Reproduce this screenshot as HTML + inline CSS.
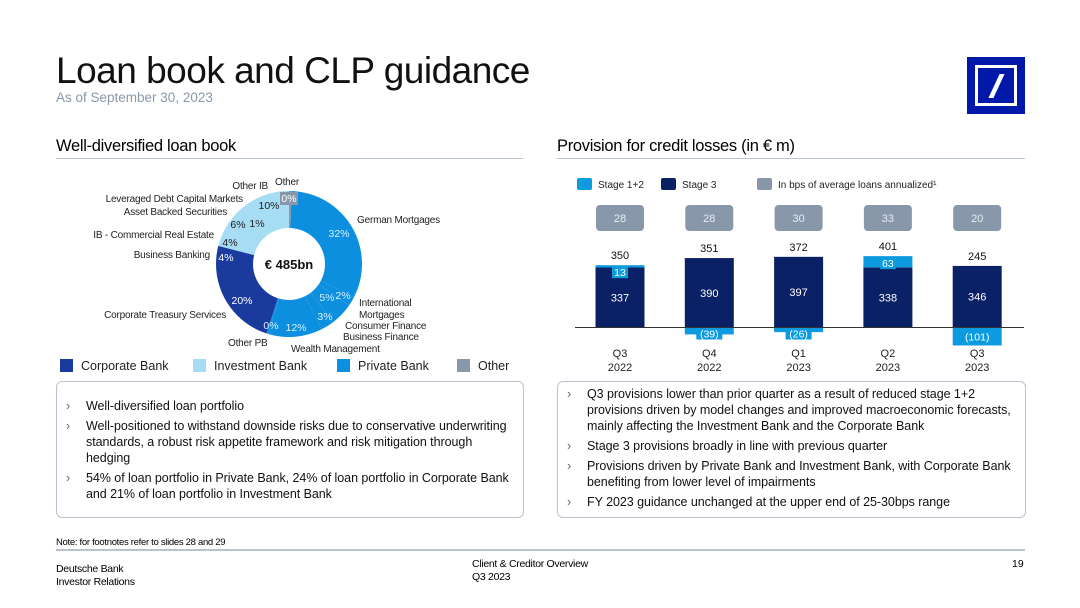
<!DOCTYPE html>
<html><head><meta charset="utf-8"><style>
body{margin:0;width:1080px;height:608px;background:#fff;font-family:"Liberation Sans",sans-serif;color:#000;position:relative;overflow:hidden}
.abs{position:absolute}
.box{position:absolute;border:1px solid #b9c3cd;border-radius:6px;font-size:12.5px;letter-spacing:-0.05px;line-height:16px;color:#111}
.box ul{list-style:none;margin:0;padding:0}
.box li{position:relative;padding-left:29px;margin-bottom:4px;white-space:nowrap}
.box li:before{content:"\203A";position:absolute;left:9px;color:#666}
</style></head><body>
<div class="abs" style="left:56px;top:50px;font-size:37px;letter-spacing:-0.5px;color:#111">Loan book and CLP guidance</div>
<div class="abs" style="left:56px;top:90px;font-size:13.5px;color:#8a98a8">As of September 30, 2023</div>
<div class="abs" style="left:967px;top:57px;width:58px;height:57px;background:#0018a8">
<div style="position:absolute;left:8px;top:8px;width:36px;height:35px;border:3px solid #fff;background:#0018a8"></div>
<div style="position:absolute;left:27px;top:17px;width:5px;height:24px;background:#fff;transform:skewX(-25deg)"></div></div>
<div class="abs" style="left:56px;top:137px;font-size:16.5px;letter-spacing:-0.3px">Well-diversified loan book</div>
<div class="abs" style="left:56px;top:158px;width:467px;height:1px;background:#b9c3cd"></div>
<div class="abs" style="left:557px;top:137px;font-size:16.5px;letter-spacing:-0.3px">Provision for credit losses (in € m)</div>
<div class="abs" style="left:557px;top:158px;width:468px;height:1px;background:#b9c3cd"></div>

<svg class="abs" style="left:0;top:0" width="1080" height="608" font-family="Liberation Sans, sans-serif">
<g id="donut"></g>
<g id="bars"></g>
</svg>

<div class="box" style="left:56px;top:381px;width:466px;height:135px">
<ul style="padding-top:16px">
<li>Well-diversified loan portfolio</li>
<li>Well-positioned to withstand downside risks due to conservative underwriting<br>standards, a robust risk appetite framework and risk mitigation through<br>hedging</li>
<li>54% of loan portfolio in Private Bank, 24% of loan portfolio in Corporate Bank<br>and 21% of loan portfolio in Investment Bank</li></ul></div>
<div class="box" style="left:557px;top:381px;width:467px;height:135px">
<ul style="padding-top:4px">
<li>Q3 provisions lower than prior quarter as a result of reduced stage 1+2<br>provisions driven by model changes and improved macroeconomic forecasts,<br>mainly affecting the Investment Bank and the Corporate Bank</li>
<li>Stage 3 provisions broadly in line with previous quarter</li>
<li>Provisions driven by Private Bank and Investment Bank, with Corporate Bank<br>benefiting from lower level of impairments</li>
<li style="margin-bottom:0">FY 2023 guidance unchanged at the upper end of 25-30bps range</li></ul></div>

<div class="abs" style="left:56px;top:537px;font-size:9.5px;letter-spacing:-0.3px">Note: for footnotes refer to slides 28 and 29</div>
<div class="abs" style="left:56px;top:549px;width:969px;height:2px;background:#b9c3cd"></div>
<div class="abs" style="left:56px;top:563px;font-size:10.5px;line-height:13px;letter-spacing:-0.3px">Deutsche Bank<br>Investor Relations</div>
<div class="abs" style="left:472px;top:558px;font-size:10.5px;line-height:13px;letter-spacing:-0.3px">Client &amp; Creditor Overview<br>Q3 2023</div>
<div class="abs" style="left:1012px;top:558px;font-size:10.5px">19</div>

<script>
const segNames=["Other","German Mortgages","International Mortgages","Consumer Finance","Business Finance","Wealth Management","Other PB","Corporate Treasury Services","Business Banking","IB - Commercial Real Estate","Asset Backed Securities","Leveraged Debt Capital Markets","Other IB"];
const segValues=[0.6,32,2,5,3,12,0.4,20,4,4,6,1,10];
const segLabels=["0%","32%","2%","5%","3%","12%","0%","20%","4%","4%","6%","1%","10%"];
const segDivision=["other","pb","pb","pb","pb","pb","pb","cb","cb","ib","ib","ib","ib"];
const stageNames=["Q3 2022","Q4 2022","Q1 2023","Q2 2023","Q3 2023"];
const stage3=[337,390,397,338,346];
const stage12=[13,-39,-26,63,-101];
const totals=[350,351,372,401,245];
const bps=[28,28,30,33,20];

const NS="http://www.w3.org/2000/svg";
function mk(p,t,a,txt){const e=document.createElementNS(NS,t);for(const k in a)e.setAttribute(k,a[k]);if(txt!==undefined)e.textContent=txt;p.appendChild(e);return e;}
const col={pb:"#0d8fdf",cb:"#1b3a9e",ib:"#a6dcf4",other:"#8897a9"};
const labelPos=[[289,202],[339,237],[343,299],[327,301],[325,320],[296,331],[271,329],[242,304],[226,261],[230,246],[238,228],[257,227],[269,209]];
const dg=document.getElementById('donut');
const cx=289,cy=264,R=73,r=36,sum=segValues.reduce((a,b)=>a+b,0);
function pt(a,rad){return [cx+rad*Math.sin(a),cy-rad*Math.cos(a)];}
let acc=0;
segValues.forEach((v,i)=>{
 const a0=acc/sum*2*Math.PI;acc+=v;const a1=acc/sum*2*Math.PI;
 const lg=(a1-a0)>Math.PI?1:0;
 const p0=pt(a0,R),p1=pt(a1,R),q1=pt(a1,r),q0=pt(a0,r);
 const p=mk(dg,'path',{d:`M${p0} A${R},${R} 0 ${lg} 1 ${p1} L${q1} A${r},${r} 0 ${lg} 0 ${q0}Z`,fill:col[segDivision[i]]});
 
 
});
segLabels.forEach((s,i)=>{
 const lp=labelPos[i];
 if(segDivision[i]=='other') mk(dg,'rect',{x:lp[0]-9,y:lp[1]-10,width:18,height:13,fill:col.other});
 const t=mk(dg,'text',{x:lp[0],y:lp[1],'font-size':10.5,'text-anchor':'middle',fill:segDivision[i]=='ib'?'#222':(segDivision[i]=='pb'?'#d8efff':'#fff')},s);
 
 
});
const ct=mk(dg,'text',{x:cx,y:cy+5,'font-size':13,'font-weight':'bold','text-anchor':'middle',fill:'#111'},'€ 485bn');


const names=[["Other",275,185,"start"],["German Mortgages",357,223,"start"],["International",359,306,"start"],["Mortgages",359,318,"start"],["Consumer Finance",345,329,"start"],["Business Finance",343,340,"start"],["Wealth Management",291,352,"start"],["Other PB",228,346,"start"],["Corporate Treasury Services",226,318,"end"],["Business Banking",210,258,"end"],["IB - Commercial Real Estate",214,238,"end"],["Asset Backed Securities",227,215,"end"],["Leveraged Debt Capital Markets",243,202,"end"],["Other IB",268,189,"end"]];
names.forEach(n=>{const t=mk(dg,'text',{x:n[1],y:n[2],'font-size':10,'text-anchor':n[3],fill:'#222','letter-spacing':'-0.2'},n[0]);
 
 });
const leg=[["Corporate Bank",col.cb,60],["Investment Bank",col.ib,193],["Private Bank",col.pb,337],["Other",col.other,457]];
leg.forEach(l=>{const g=mk(dg,'g',{});
 
 
 mk(g,'rect',{x:l[2],y:359,width:13,height:13,fill:l[1]});mk(g,'text',{x:l[2]+21,y:370,'font-size':12.5,fill:'#222'},l[0]);});
const bg=document.getElementById('bars');
const zeroY=327.5,k=0.178,bw=49;
const xc=i=>620+i*89.3;const ys=v=>zeroY-v*k;
const lg2=[["Stage 1+2","#0d9be0",577],["Stage 3","#0a2165",661],["In bps of average loans annualized¹","#8897a9",757]];
lg2.forEach(l=>{const g=mk(bg,'g',{});
 
 
 mk(g,'rect',{x:l[2],y:178,width:15,height:12,rx:2,fill:l[1]});mk(g,'text',{x:l[2]+21,y:188,'font-size':10,fill:'#222'},l[0]);});
stage3.forEach((v,i)=>{
 const x=xc(i)-bw/2;
 const bb=mk(bg,'rect',{x:xc(i)-24,y:205,width:48,height:26,rx:4,fill:'#8897a9'});
 
 
 mk(bg,'text',{x:xc(i),y:222,'font-size':11,'text-anchor':'middle',fill:'#e8edf2'},bps[i]);
 const b3=mk(bg,'rect',{x:x,y:ys(v),width:bw,height:v*k,fill:'#0a2165'});
 
 
 mk(bg,'text',{x:xc(i),y:ys(v/2)+4,'font-size':11,'text-anchor':'middle',fill:'#fff'},v);
 const s=stage12[i];let top,lblY,b12;
 if(s>=0){top=ys(v+s);b12=mk(bg,'rect',{x:x,y:top,width:bw,height:s*k,fill:'#0d9be0'});
   if(s*k<12){mk(bg,'rect',{x:xc(i)-8,y:top+1,width:16,height:12,fill:'#0d9be0'});lblY=top+11;}else lblY=top+s*k/2+4;}
 else{top=ys(v);b12=mk(bg,'rect',{x:x,y:zeroY,width:bw,height:-s*k,fill:'#0d9be0'});
   if(-s*k<12){mk(bg,'rect',{x:xc(i)-13,y:zeroY,width:26,height:12,fill:'#0d9be0'});lblY=zeroY+10;}else lblY=zeroY-s*k/2+4;}
 
 
 mk(bg,'text',{x:xc(i),y:lblY,'font-size':10.5,'text-anchor':'middle',fill:'#fff'},s<0?'('+(-s)+')':s);
 const tt=mk(bg,'text',{x:xc(i),y:top-6,'font-size':11,'text-anchor':'middle',fill:'#111'},totals[i]);
 
 
 const p=stageNames[i].split(' ');
 mk(bg,'text',{x:xc(i),y:357,'font-size':11,'text-anchor':'middle',fill:'#222'},p[0]);
 mk(bg,'text',{x:xc(i),y:371,'font-size':11,'text-anchor':'middle',fill:'#222'},p[1]);
});
const ax=mk(bg,'line',{x1:575,x2:1024,y1:zeroY,y2:zeroY,stroke:'#333','stroke-width':1});


</script>
</body></html>
